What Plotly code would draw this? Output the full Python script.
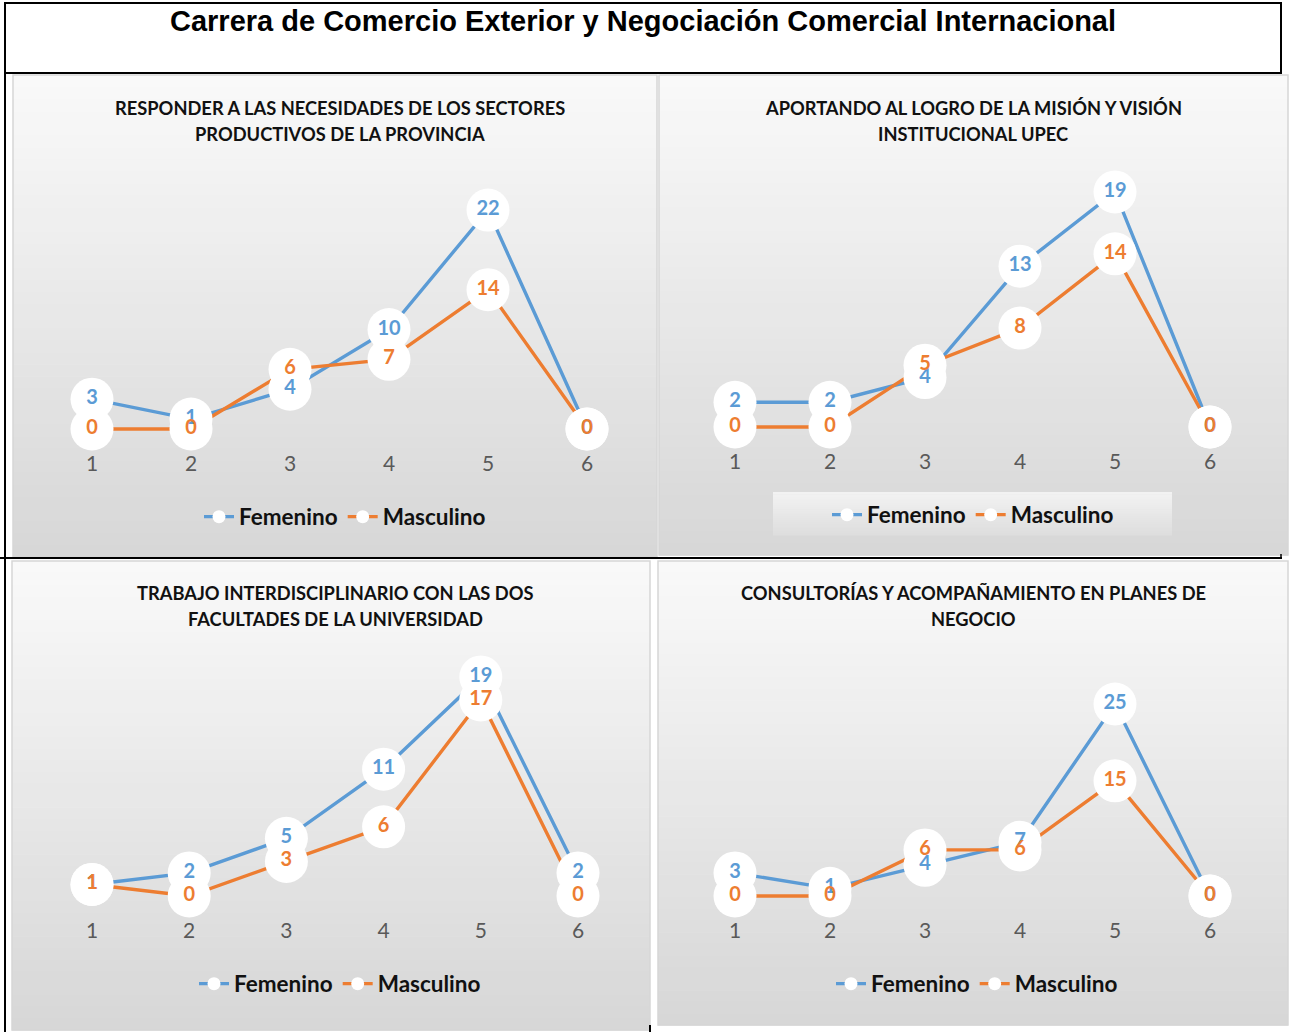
import plotly.graph_objects as go

W, H = 1290, 1032

# ---------------- data ----------------
categorias = [1, 2, 3, 4, 5, 6]
titulo = "Carrera de Comercio Exterior y Negociación Comercial Internacional"
series = ["Femenino", "Masculino"]

titulo_1 = ["RESPONDER A LAS NECESIDADES DE LOS SECTORES", "PRODUCTIVOS DE LA PROVINCIA"]
titulo_2 = ["APORTANDO AL LOGRO DE LA MISIÓN Y VISIÓN", "INSTITUCIONAL UPEC"]
titulo_3 = ["TRABAJO INTERDISCIPLINARIO CON LAS DOS", "FACULTADES DE LA UNIVERSIDAD"]
titulo_4 = ["CONSULTORÍAS Y ACOMPAÑAMIENTO EN PLANES DE", "NEGOCIO"]

fem_1 = [3, 1, 4, 10, 22, 0]
mas_1 = [0, 0, 6, 7, 14, 0]
fem_2 = [2, 2, 4, 13, 19, 0]
mas_2 = [0, 0, 5, 8, 14, 0]
fem_3 = [1, 2, 5, 11, 19, 2]
mas_3 = [1, 0, 3, 6, 17, 0]
fem_4 = [3, 1, 4, 7, 25, 0]
mas_4 = [0, 0, 6, 6, 15, 0]

# ---------------- styling / geometry (pixels) ----------------
AZUL = "#5B9BD5"
NARANJA = "#ED7D31"
FONT = "Lato"

paneles = [
    dict(t=titulo_1, f=fem_1, m=mas_1, bg=(13, 75, 657, 557), tx=340, ty=108,
         x1=92, dx=99, y0=429, dy=9.95, tick=463, lx=345, ly=517, box=False),
    dict(t=titulo_2, f=fem_2, m=mas_2, bg=(659, 75, 1288, 555), tx=973, ty=108,
         x1=735, dx=95, y0=427, dy=12.37, tick=461, lx=973, ly=515, box=True),
    dict(t=titulo_3, f=fem_3, m=mas_3, bg=(12, 561, 650, 1030), tx=335, ty=593,
         x1=92, dx=97.2, y0=896, dy=11.53, tick=930, lx=340, ly=984, box=False),
    dict(t=titulo_4, f=fem_4, m=mas_4, bg=(658, 561, 1288, 1025), tx=973, ty=593,
         x1=735, dx=95, y0=896, dy=7.68, tick=930, lx=977, ly=984, box=False),
]


def px(x):
    return x / W


def py(y):
    return 1 - y / H


fig = go.Figure()
shapes = []
annotations = []


def grad_rect(x0, y0, x1, y1, c0, c1, n=40):
    h = (y1 - y0) / n
    for i in range(n):
        t = i / (n - 1)
        c = round(c0 + (c1 - c0) * t)
        shapes.append(dict(type="rect", xref="paper", yref="paper",
                           x0=px(x0), x1=px(x1), y0=py(y0 + i * h), y1=py(y0 + (i + 1) * h + 0.6),
                           fillcolor=f"rgb({c},{c},{c})", line=dict(width=0), layer="below"))


layout_axes = {}
for k, p in enumerate(paneles, start=1):
    x0, y0, x1, y1 = p["bg"]
    grad_rect(x0, y0, x1, y1, 249, 215)
    shapes.append(dict(type="rect", xref="paper", yref="paper",
                       x0=px(x0), x1=px(x1), y0=py(y1), y1=py(y0),
                       line=dict(color="#d6d6d6", width=1.5), layer="below"))
    if p["box"]:
        grad_rect(773, 492, 1172, 535, 242, 222, n=20)

    # title lines
    for j, line in enumerate(p["t"]):
        annotations.append(dict(text=f"<b>{line}</b>", xref="paper", yref="paper",
                                x=px(p["tx"]), y=py(p["ty"] + 26 * j), showarrow=False,
                                xanchor="center", yanchor="middle",
                                font=dict(family=FONT, size=18.3, color="#111111")))

    # axis domains from pixel anchors
    xa = "x" if k == 1 else f"x{k}"
    ya = "y" if k == 1 else f"y{k}"
    dom_x = [px(p["x1"] - 0.5 * p["dx"]), px(p["x1"] + 5.5 * p["dx"])]
    pt = p["ty"] + 55
    pb = p["tick"] - 14
    dom_y = [py(pb), py(pt)]
    yr = [(p["y0"] - pb) / p["dy"], (p["y0"] - pt) / p["dy"]]
    kx = "xaxis" if k == 1 else f"xaxis{k}"
    ky = "yaxis" if k == 1 else f"yaxis{k}"
    layout_axes[kx] = dict(domain=dom_x, range=[0.5, 6.5], anchor=ya, tickvals=categorias,
                           showgrid=False, zeroline=False, showline=False, ticks="",
                           tickfont=dict(family=FONT, size=21, color="#595959"), fixedrange=True)
    layout_axes[ky] = dict(domain=dom_y, range=yr, anchor=xa, visible=False, fixedrange=True)

    vals = [p["f"], p["m"]]
    cols = [AZUL, NARANJA]
    # lines
    for v, c in zip(vals, cols):
        fig.add_trace(go.Scatter(x=categorias, y=v, mode="lines", xaxis=xa, yaxis=ya,
                                 line=dict(color=c, width=3.4), showlegend=False,
                                 cliponaxis=False, hoverinfo="skip"))
    # label bubbles
    for v, c in zip(vals, cols):
        fig.add_trace(go.Scatter(x=categorias, y=v, mode="markers", xaxis=xa, yaxis=ya,
                                 marker=dict(color="white", size=43, line=dict(width=0)),
                                 showlegend=False, cliponaxis=False, hoverinfo="skip"))
    # label text
    for v, c in zip(vals, cols):
        fig.add_trace(go.Scatter(x=categorias, y=v, mode="text", xaxis=xa, yaxis=ya,
                                 text=[str(t) for t in v], textposition="middle center",
                                 textfont=dict(family=FONT, size=20, color=c, weight="bold"),
                                 showlegend=False, cliponaxis=False, hoverinfo="skip"))
    # legend entries
    lg = "legend" if k == 1 else f"legend{k}"
    for s, c in zip(series, cols):
        fig.add_trace(go.Scatter(x=[None], y=[None], mode="lines+markers", name=s,
                                 xaxis=xa, yaxis=ya, legend=lg,
                                 line=dict(color=c, width=3.4),
                                 marker=dict(color="white", size=13, line=dict(width=0)),
                                 showlegend=True))
    layout_axes[lg] = dict(x=px(p["lx"]), y=py(p["ly"]), xanchor="center", yanchor="middle",
                           orientation="h", bgcolor="rgba(0,0,0,0)",
                           font=dict(family=FONT, size=22.5, color="#111111", weight="bold"),
                           itemclick=False, itemdoubleclick=False)

# black frame lines
blk = dict(color="black", width=2)
shapes.append(dict(type="rect", xref="paper", yref="paper", x0=px(5), x1=px(1281),
                   y0=py(73), y1=py(3), line=blk, layer="above"))
shapes.append(dict(type="line", xref="paper", yref="paper", x0=px(5), x1=px(5),
                   y0=py(73), y1=py(1032), line=blk, layer="above"))
shapes.append(dict(type="line", xref="paper", yref="paper", x0=px(0), x1=px(1282),
                   y0=py(558), y1=py(558), line=blk, layer="above"))
shapes.append(dict(type="line", xref="paper", yref="paper", x0=px(1281), x1=px(1281),
                   y0=py(554), y1=py(558), line=dict(color="black", width=1.5), layer="above"))
shapes.append(dict(type="line", xref="paper", yref="paper", x0=px(650), x1=px(650),
                   y0=py(1025), y1=py(1032), line=blk, layer="above"))

annotations.append(dict(text=f"<b>{titulo}</b>", xref="paper", yref="paper",
                        x=px(643), y=py(21), showarrow=False, xanchor="center", yanchor="middle",
                        font=dict(family="Liberation Sans", size=29, color="black")))

fig.update_layout(width=W, height=H, margin=dict(l=0, r=0, t=0, b=0),
                  paper_bgcolor="white", plot_bgcolor="rgba(0,0,0,0)",
                  shapes=shapes, annotations=annotations, **layout_axes)

fig.write_html("out.html", config={"displayModeBar": False},
               post_script="document.body.style.margin='0px';")
